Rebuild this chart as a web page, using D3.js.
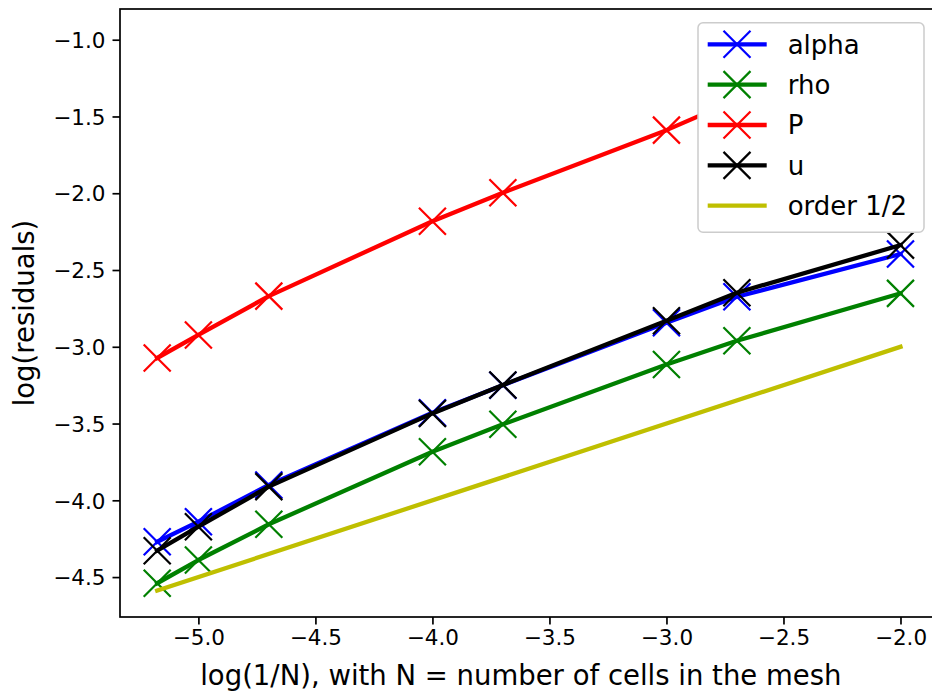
<!DOCTYPE html>
<html>
<head>
<meta charset="utf-8">
<script src="https://cdn.jsdelivr.net/npm/d3@7"></script>
<style>
  html, body { margin: 0; padding: 0; background: #fff; }
  svg { display: block; font-family: "DejaVu Sans", sans-serif; }
</style>
</head>
<body>
<svg id="chart" width="932" height="696"></svg>
<script>
// ---- data ----
const logInvN = [-5.176, -5.0, -4.699, -4.0, -3.699, -3.0, -2.699, -2.0];
const alphaRes = [-4.27, -4.139, -3.90, -3.43, -3.25, -2.844, -2.674, -2.396];
const rhoRes   = [-4.54, -4.389, -4.156, -3.684, -3.505, -3.115, -2.961, -2.652];
const pRes     = [-3.073, -2.923, -2.67, -2.182, -1.997, -1.589, -1.39, -0.98];
const uRes     = [-4.328, -4.172, -3.911, -3.434, -3.249, -2.831, -2.648, -2.338];
const orderX   = [-5.176, -2.0];
const orderY   = [-4.588, -3.0];
const xTicks = [-5.0, -4.5, -4.0, -3.5, -3.0, -2.5, -2.0];
const yTicks = [-4.5, -4.0, -3.5, -3.0, -2.5, -2.0, -1.5, -1.0];
const seriesNames = ["alpha", "rho", "P", "u", "order 1/2"];
const seriesColors = ["#0000ff", "#008000", "#ff0000", "#000000", "#bfbf00"];

const series = [
  {name: seriesNames[0], color: seriesColors[0], x: logInvN, y: alphaRes, marker: true},
  {name: seriesNames[1], color: seriesColors[1], x: logInvN, y: rhoRes, marker: true},
  {name: seriesNames[2], color: seriesColors[2], x: logInvN, y: pRes, marker: true},
  {name: seriesNames[3], color: seriesColors[3], x: logInvN, y: uRes, marker: true},
  {name: seriesNames[4], color: seriesColors[4], x: orderX, y: orderY, marker: false}
];

const svg = d3.select("#chart");
const L = 120, R = 937.7, T = 9, B = 617;
const x = d3.scaleLinear().domain([-5.335, -1.841]).range([L, R]);
const y = d3.scaleLinear().domain([-4.76, -0.80]).range([B, T]);

const lineW = 4.3, mk = 13.5, mkW = 2.2;

// lines
const plot = svg.append("g");
const lineGen = d3.line().x(d => x(d[0])).y(d => y(d[1]));
series.forEach(s => {
  const pts = s.x.map((v, i) => [v, s.y[i]]);
  plot.append("path").datum(pts)
    .attr("d", lineGen).attr("fill", "none")
    .attr("stroke", s.color).attr("stroke-width", lineW)
    .attr("stroke-linejoin", "round").attr("stroke-linecap", "square");
  if (s.marker) {
    plot.selectAll(null).data(pts).enter().append("path")
      .attr("transform", d => `translate(${x(d[0])},${y(d[1])})`)
      .attr("d", `M${-mk},${-mk}L${mk},${mk}M${-mk},${mk}L${mk},${-mk}`)
      .attr("stroke", s.color).attr("stroke-width", mkW).attr("fill", "none");
  }
});

// axes
const fmt = d3.format(".1f");
const xAxis = svg.append("g").attr("transform", `translate(0,${B})`)
  .call(d3.axisBottom(x).tickValues(xTicks).tickFormat(fmt).tickSizeInner(7.5).tickSizeOuter(0).tickPadding(5));
const yAxis = svg.append("g").attr("transform", `translate(${L},0)`)
  .call(d3.axisLeft(y).tickValues(yTicks).tickFormat(fmt).tickSizeInner(7.5).tickSizeOuter(0).tickPadding(7));
[xAxis, yAxis].forEach(a => {
  a.select(".domain").remove();
  a.selectAll(".tick line").attr("stroke", "#000").attr("stroke-width", 1.7);
  a.selectAll(".tick text").attr("font-size", 21.5).attr("fill", "#000")
    .attr("font-family", "DejaVu Sans, sans-serif");
});
xAxis.selectAll(".tick text").attr("dy", "0.71em");
yAxis.selectAll(".tick text").attr("dy", "0.36em");

// spines
svg.append("rect").attr("x", L).attr("y", T).attr("width", R - L).attr("height", B - T)
  .attr("fill", "none").attr("stroke", "#000").attr("stroke-width", 1.7);

// labels
svg.append("text").attr("x", (L + R) / 2 - 8).attr("y", 685)
  .attr("text-anchor", "middle").attr("font-size", 27.5).text("log(1/N), with N = number of cells in the mesh");
svg.append("text").attr("transform", `translate(34,${(T + B) / 2}) rotate(-90)`)
  .attr("text-anchor", "middle").attr("font-size", 27.5).text("log(residuals)");

// legend
const lg = svg.append("g");
lg.append("rect").attr("x", 698).attr("y", 22.7).attr("width", 226).attr("height", 209.6)
  .attr("rx", 5).attr("fill", "#fff").attr("stroke", "#cccccc").attr("stroke-width", 1.5);
const rowY = d3.scaleLinear().domain([0, 4]).range([44.3, 205.7]);
series.forEach((s, i) => {
  const cy = rowY(i);
  lg.append("line").attr("x1", 707.7).attr("x2", 766.7).attr("y1", cy).attr("y2", cy)
    .attr("stroke", s.color).attr("stroke-width", lineW);
  if (s.marker) {
    lg.append("path").attr("transform", `translate(737,${cy})`)
      .attr("d", `M${-mk},${-mk}L${mk},${mk}M${-mk},${mk}L${mk},${-mk}`)
      .attr("stroke", s.color).attr("stroke-width", mkW).attr("fill", "none");
  }
  lg.append("text").attr("x", 787.7).attr("y", cy).attr("dy", "0.36em")
    .attr("font-size", 26).text(s.name);
});
</script>
</body>
</html>
